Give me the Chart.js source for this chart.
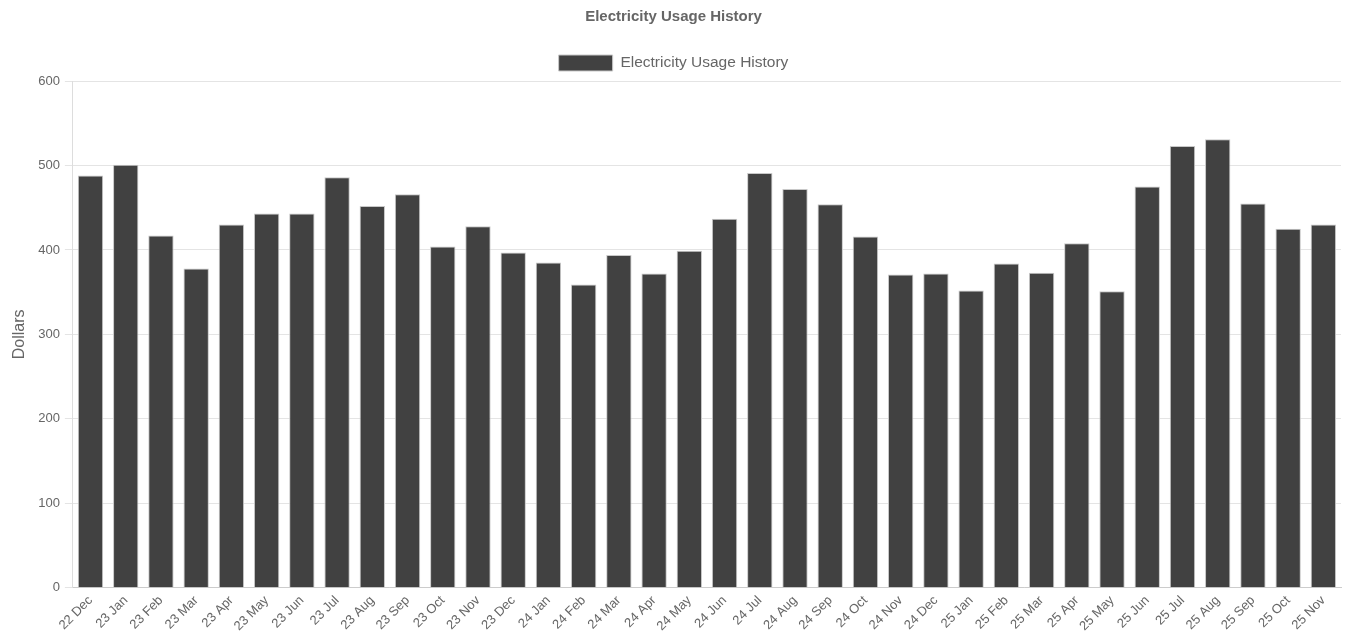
<!DOCTYPE html>
<html>
<head>
<meta charset="utf-8">
<title>Electricity Usage History</title>
<script src="https://cdn.jsdelivr.net/npm/chart.js@4.4.0/dist/chart.umd.min.js"></script>
<style>
  html, body { margin: 0; padding: 0; background: #fff; }
  #wrap { width: 1353px; height: 639px; }
</style>
</head>
<body>
<div id="wrap"><canvas id="usageChart"></canvas></div>
<script>
// months shown on the x axis
var months = ['22 Dec',
  '23 Jan', '23 Feb', '23 Mar', '23 Apr', '23 May', '23 Jun', '23 Jul', '23 Aug', '23 Sep', '23 Oct', '23 Nov', '23 Dec',
  '24 Jan', '24 Feb', '24 Mar', '24 Apr', '24 May', '24 Jun', '24 Jul', '24 Aug', '24 Sep', '24 Oct', '24 Nov', '24 Dec',
  '25 Jan', '25 Feb', '25 Mar', '25 Apr', '25 May', '25 Jun', '25 Jul', '25 Aug', '25 Sep', '25 Oct', '25 Nov'];

// dollars per month
var dollars = [488,
  501, 417, 378, 430, 443, 443, 486, 452, 466, 404, 428, 397,
  385, 359, 394, 372, 399, 437, 491, 472, 454, 416, 371, 372,
  352, 384, 373, 408, 351, 475, 523, 531, 455, 425, 430];

var yTicks = [0, 100, 200, 300, 400, 500, 600];

var fontFam = "'Liberation Sans', Arial, Helvetica, sans-serif";
Chart.defaults.font.family = fontFam;
Chart.defaults.color = '#666';

var ctx = document.getElementById('usageChart').getContext('2d');
var chart = new Chart(ctx, {
  type: 'bar',
  data: {
    labels: months,
    datasets: [{
      label: 'Electricity Usage History',
      data: dollars,
      backgroundColor: '#414141',
      borderColor: 'rgba(200, 200, 200, 1)',
      borderWidth: 1,
      categoryPercentage: 0.8,
      barPercentage: 0.9
    }]
  },
  options: {
    responsive: true,
    maintainAspectRatio: false,
    animation: false,
    layout: { padding: { left: 6, right: 12, top: 0, bottom: 0 } },
    plugins: {
      title: {
        display: true,
        text: 'Electricity Usage History',
        font: { size: 15, weight: 'bold' },
        color: '#666',
        padding: { top: 8, bottom: 16 }
      },
      legend: {
        display: true,
        labels: {
          boxWidth: 54,
          boxHeight: 16,
          font: { size: 15.5 },
          color: '#666',
          padding: 13
        }
      },
      tooltip: { enabled: false }
    },
    scales: {
      x: {
        grid: { display: false, drawTicks: false },
        border: { color: '#ccc' },
        ticks: {
          maxRotation: 45,
          minRotation: 45,
          autoSkip: false,
          font: { size: 13 },
          color: '#666',
          padding: 5
        }
      },
      y: {
        min: 0,
        max: 600,
        afterBuildTicks: function (axis) {
          axis.ticks = yTicks.map(function (v) { return { value: v }; });
        },
        grid: { color: '#e4e4e4', tickLength: 8 },
        border: { color: '#ddd' },
        ticks: { font: { size: 13 }, color: '#666', padding: 5 },
        title: {
          display: true,
          text: 'Dollars',
          font: { size: 16 },
          color: '#666',
          padding: 4
        }
      }
    }
  }
});
</script>
</body>
</html>
